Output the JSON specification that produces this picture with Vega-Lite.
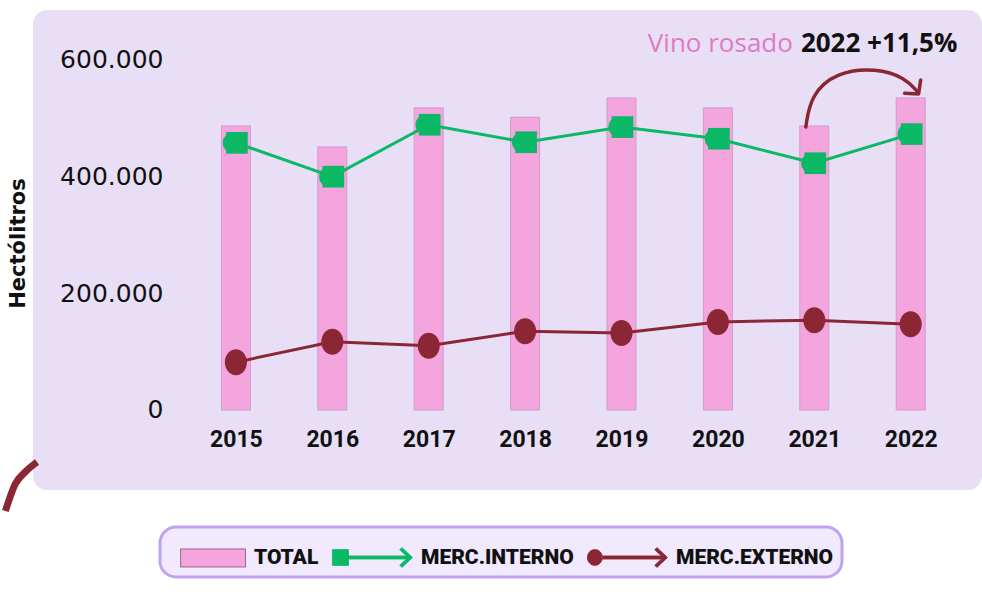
{
  "$schema": "https://vega.github.io/schema/vega-lite/v6.json",
  "width": 949,
  "height": 480,
  "autosize": {"type": "none"},
  "padding": {"left": 33, "top": 10, "right": 0, "bottom": 109},
  "background": "#ffffff",
  "view": {"fill": "#e8dff6", "stroke": "#e8dff6", "strokeWidth": 0, "cornerRadius": 14},
  "datasets": {
    "main": [
      {"year": 2015, "total": 487000, "interno": 458000, "externo": 82000},
      {"year": 2016, "total": 451000, "interno": 400000, "externo": 117000},
      {"year": 2017, "total": 518000, "interno": 489000, "externo": 110000},
      {"year": 2018, "total": 502000, "interno": 459000, "externo": 135000},
      {"year": 2019, "total": 535000, "interno": 485000, "externo": 132000},
      {"year": 2020, "total": 518000, "interno": 465000, "externo": 151000},
      {"year": 2021, "total": 487000, "interno": 423000, "externo": 154000},
      {"year": 2022, "total": 535000, "interno": 473000, "externo": 147000}
    ],
    "arrow": [
      {"x": 2020.912, "y": 485100},
      {"x": 2020.963, "y": 540000},
      {"x": 2021.230, "y": 579400},
      {"x": 2021.641, "y": 586300},
      {"x": 2021.949, "y": 569100},
      {"x": 2022.072, "y": 545100}
    ],
    "decor": [
      {"x": 2012.937, "y": -89100},
      {"x": 2012.814, "y": -106300},
      {"x": 2012.711, "y": -126900},
      {"x": 2012.609, "y": -173100}
    ],
    "legend": [
      {"serie": "TOTAL"},
      {"serie": "MERC.INTERNO"},
      {"serie": "MERC.EXTERNO"}
    ],
    "one": [{"k": 1}]
  },
  "layer": [
    {
      "data": {"name": "main"},
      "mark": {"type": "bar", "size": 29, "color": "#f4a5de", "stroke": "#cf9bcf", "strokeWidth": 1},
      "encoding": {
        "x": {"field": "year", "type": "quantitative", "scale": {"domain": [2012.947, 2022.688], "nice": false, "zero": false},
              "axis": {"values": [2015, 2016, 2017, 2018, 2019, 2020, 2021, 2022], "format": "d", "title": null}},
        "y": {"field": "total", "type": "quantitative", "scale": {"domain": [-137143, 685714], "nice": false, "zero": false},
              "axis": {"values": [0, 200000, 400000, 600000], "format": ",d", "title": "Hectólitros"}}
      }
    },
    {
      "data": {"name": "main"},
      "mark": {"type": "line", "color": "#0bb866", "strokeWidth": 3},
      "encoding": {
        "x": {"field": "year", "type": "quantitative"},
        "y": {"field": "interno", "type": "quantitative", "title": "Hectólitros"}
      }
    },
    {
      "data": {"name": "main"},
      "mark": {"type": "circle", "color": "#0bb866", "size": 420, "opacity": 1, "xOffset": -3},
      "encoding": {
        "x": {"field": "year", "type": "quantitative"},
        "y": {"field": "interno", "type": "quantitative", "title": "Hectólitros"}
      }
    },
    {
      "data": {"name": "main"},
      "mark": {"type": "square", "color": "#0bb866", "size": 470, "opacity": 1, "xOffset": 1},
      "encoding": {
        "x": {"field": "year", "type": "quantitative"},
        "y": {"field": "interno", "type": "quantitative", "title": "Hectólitros"}
      }
    },
    {
      "data": {"name": "main"},
      "mark": {"type": "line", "color": "#8b2634", "strokeWidth": 3},
      "encoding": {
        "x": {"field": "year", "type": "quantitative"},
        "y": {"field": "externo", "type": "quantitative", "title": "Hectólitros"}
      }
    },
    {
      "data": {"name": "main"},
      "mark": {"type": "point", "shape": "M-0.92,0A0.92,1.08 0 1,0 0.92,0A0.92,1.08 0 1,0 -0.92,0Z", "filled": true, "color": "#8b2634", "size": 576, "opacity": 1},
      "encoding": {
        "x": {"field": "year", "type": "quantitative"},
        "y": {"field": "externo", "type": "quantitative", "title": "Hectólitros"}
      }
    },
    {
      "data": {"name": "arrow"},
      "mark": {"type": "line", "color": "#8b2634", "strokeWidth": 3.5, "interpolate": "basis", "strokeCap": "round"},
      "encoding": {
        "x": {"field": "x", "type": "quantitative"},
        "y": {"field": "y", "type": "quantitative", "title": "Hectólitros"}
      }
    },
    {
      "data": {"name": "one"},
      "mark": {"type": "point", "shape": "M-1,-0.05L0,0L0.15,-1", "filled": false, "stroke": "#8b2634", "strokeWidth": 3.5, "size": 784, "opacity": 1, "strokeCap": "round", "strokeJoin": "round"},
      "encoding": {
        "x": {"datum": 2022.082, "type": "quantitative"},
        "y": {"datum": 541700, "type": "quantitative"}
      }
    },
    {
      "data": {"name": "decor"},
      "mark": {"type": "line", "color": "#8b2634", "strokeWidth": 7, "interpolate": "monotone", "clip": false},
      "encoding": {
        "x": {"field": "x", "type": "quantitative"},
        "y": {"field": "y", "type": "quantitative", "title": "Hectólitros"}
      }
    },
    {
      "data": {"name": "one"},
      "mark": {"type": "text", "align": "right", "baseline": "middle", "font": "Open Sans", "fontWeight": 500, "fontSize": 26, "color": "#e07ac3"},
      "encoding": {
        "x": {"datum": 2020.778, "type": "quantitative"},
        "y": {"datum": 627400, "type": "quantitative"},
        "text": {"value": "Vino rosado"}
      }
    },
    {
      "data": {"name": "one"},
      "mark": {"type": "text", "align": "left", "baseline": "middle", "font": "Open Sans", "fontWeight": "bold", "fontSize": 26, "color": "#111111"},
      "encoding": {
        "x": {"datum": 2020.861, "type": "quantitative"},
        "y": {"datum": 627400, "type": "quantitative"},
        "text": {"value": "2022 +11,5%"}
      }
    },
    {
      "data": {"name": "legend"},
      "mark": {"type": "point", "filled": true, "opacity": 0},
      "encoding": {
        "color": {"field": "serie", "type": "nominal", "title": null,
                  "scale": {"domain": ["TOTAL", "MERC.INTERNO", "MERC.EXTERNO"], "range": ["#f4a5de", "#0bb866", "#8b2634"]}},
        "stroke": {"field": "serie", "type": "nominal", "title": null,
                  "scale": {"domain": ["TOTAL", "MERC.INTERNO", "MERC.EXTERNO"], "range": ["#8a4a78", "#0bb866", "#8b2634"]}},
        "shape": {"field": "serie", "type": "nominal", "title": null,
                  "scale": {"domain": ["TOTAL", "MERC.INTERNO", "MERC.EXTERNO"],
                            "range": [
                              "M-0.45,-0.41H2.5V0.41H-0.45Z",
                              "M-1.14,-0.36H-0.41V0.36H-1.14Z M-0.41,-0.07H2.4V0.07H-0.41Z M2.02,-0.45L2.5,0L2.02,0.45L1.92,0.35L2.3,0L1.92,-0.35Z",
                              "M-1.14,0A0.34,0.36 0 1,0 -0.46,0A0.34,0.36 0 1,0 -1.14,0Z M-0.5,-0.07H2.4V0.07H-0.5Z M2.02,-0.45L2.5,0L2.02,0.45L1.92,0.35L2.3,0L1.92,-0.35Z"
                            ]}}
      }
    }
  ],
  "config": {
    "locale": {"number": {"decimal": ",", "thousands": ".", "grouping": [3], "currency": ["", " €"]}},
    "view": {"fill": "#e8dff6", "cornerRadius": 14},
    "axis": {"grid": false, "domain": false, "ticks": false},
    "axisX": {"offset": -62, "labelPadding": 0, "labelFont": "Roboto", "labelFontWeight": "bold", "labelFontSize": 23, "labelColor": "#111111"},
    "axisY": {"offset": -132, "labelPadding": 2, "labelFont": "DejaVu Sans", "labelFontSize": 25, "labelColor": "#111111",
              "titleFont": "DejaVu Sans", "titleFontWeight": "bold", "titleFontSize": 21, "titleColor": "#111111",
              "titleX": -147, "titleY": 233, "titleAngle": -90, "titleAlign": "center", "titleBaseline": "middle"},
    "legend": {"orient": "none", "legendX": 127, "legendY": 517, "direction": "horizontal", "padding": 8,
               "fillColor": "#f1e9fd", "strokeColor": "#bfa2f2", "strokeWidth": 3, "cornerRadius": 16,
               "symbolSize": 1936, "symbolOpacity": 1, "symbolStrokeWidth": 0.8,
               "labelFont": "Roboto", "labelFontWeight": 900, "labelFontSize": 21, "labelColor": "#111111",
               "labelOffset": 41, "columnPadding": 11, "labelLimit": 300}
  }
}
